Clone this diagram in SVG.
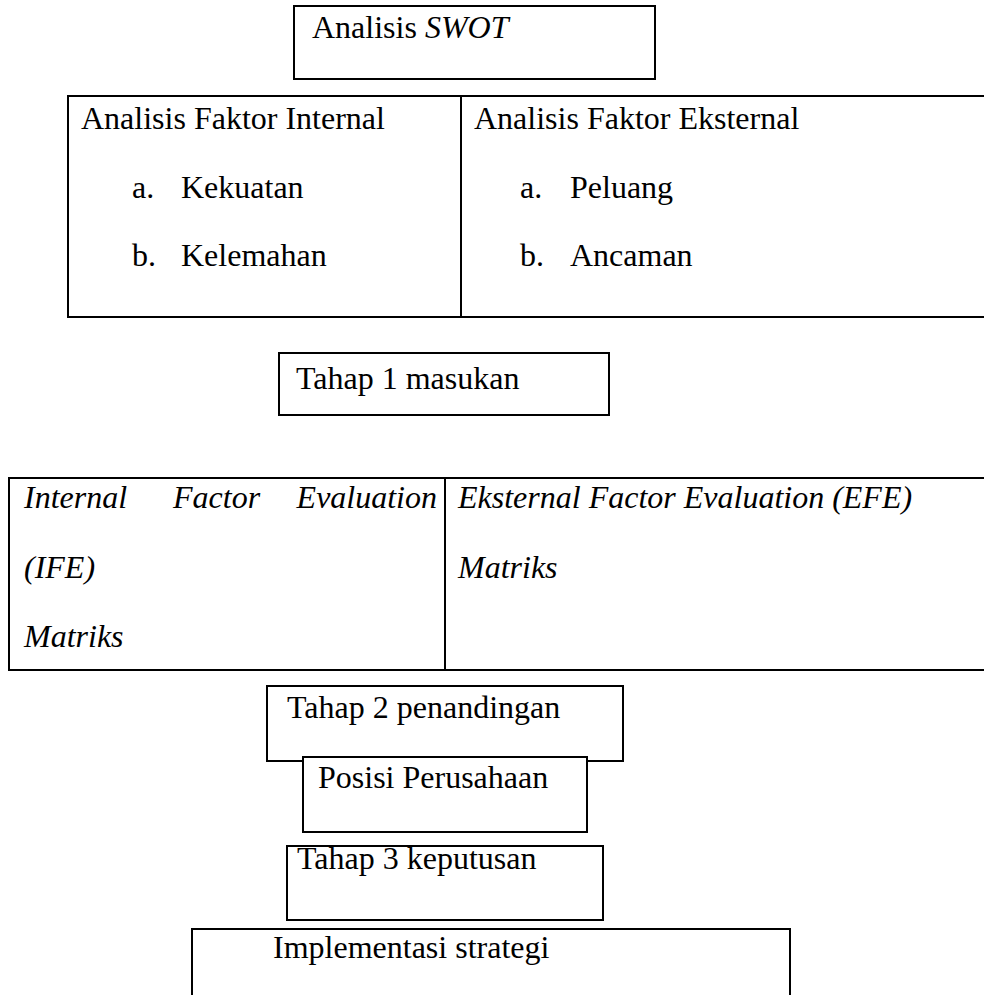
<svg xmlns="http://www.w3.org/2000/svg" width="984" height="995" viewBox="0 0 984 995">
<style>
.box{fill:#fff;stroke:#000;stroke-width:2}
.div{stroke:#000;stroke-width:2}
text{font-family:"Liberation Serif","Times New Roman",serif;font-size:32px;fill:#000}
.it{font-style:italic}
</style>
<rect width="984" height="995" fill="#fff"/>
<g id="swot">
<rect class="box" x="294" y="6" width="361" height="73"/>
<text x="312" y="38">Analisis <tspan class="it">SWOT</tspan></text>
</g>
<g id="faktor">
<rect class="box" x="68" y="96" width="920" height="221"/>
<line class="div" x1="461" y1="96" x2="461" y2="317"/>
<text x="81" y="129">Analisis Faktor Internal</text>
<text x="132" y="198">a.</text><text x="181" y="198">Kekuatan</text>
<text x="132" y="266">b.</text><text x="181" y="266">Kelemahan</text>
<text x="474" y="129">Analisis Faktor Eksternal</text>
<text x="520" y="198">a.</text><text x="570" y="198">Peluang</text>
<text x="520" y="266">b.</text><text x="570" y="266">Ancaman</text>
</g>
<g id="tahap1">
<rect class="box" x="279" y="353" width="330" height="62"/>
<text x="296" y="389">Tahap 1 masukan</text>
</g>
<g id="matriks">
<rect class="box" x="9" y="478" width="980" height="192"/>
<line class="div" x1="445" y1="478" x2="445" y2="670"/>
<text class="it" x="24" y="508">Internal</text>
<text class="it" x="173" y="508">Factor</text>
<text class="it" x="437" y="508" text-anchor="end">Evaluation</text>
<text class="it" x="24" y="578">(IFE)</text>
<text class="it" x="24" y="647">Matriks</text>
<text class="it" x="458" y="508">Eksternal Factor Evaluation (EFE)</text>
<text class="it" x="458" y="578">Matriks</text>
</g>
<g id="tahap2">
<rect class="box" x="267" y="686" width="356" height="75"/>
<text x="287" y="718">Tahap 2 penandingan</text>
</g>
<g id="posisi">
<rect class="box" x="303" y="757" width="284" height="75"/>
<text x="318" y="788">Posisi Perusahaan</text>
</g>
<g id="tahap3">
<rect class="box" x="287" y="846" width="316" height="74"/>
<text x="297" y="869">Tahap 3 keputusan</text>
</g>
<g id="implementasi">
<rect class="box" x="192" y="929" width="598" height="80"/>
<text x="273" y="958">Implementasi strategi</text>
</g>
<g id="connectors"></g>
</svg>
